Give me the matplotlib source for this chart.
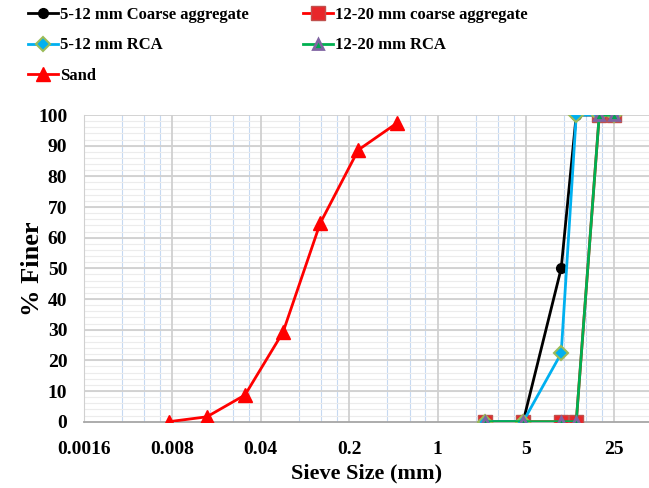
import numpy as np
import matplotlib
matplotlib.use('Agg')
import matplotlib.pyplot as plt
from matplotlib.ticker import FixedLocator, NullFormatter

plt.rcParams['font.family'] = ['Liberation Serif', 'DejaVu Serif']
plt.rcParams['font.weight'] = 'bold'

# Datos
coarse_x = [2.36, 4.75, 9.5, 12.5, 19, 25]
coarse_5_12 = [0, 0, 50, 100, 100, 100]
coarse_12_20 = [0, 0, 0, 0, 100, 100]
rca_5_12 = [0, 0, 22.3, 100, 100, 100]
rca_12_20 = [0, 0, 0, 0, 100, 100]

sand_x = [0.0075, 0.015, 0.03, 0.06, 0.118, 0.236, 0.475]
sand = [0, 1.6, 8.7, 29.2, 64.7, 88.6, 97.3]

x_ticks = [0.0016, 0.008, 0.04, 0.2, 1, 5, 25]
x_labels = ['0.0016', '0.008', '0.04', '0.2', '1', '5', '25']

fig = plt.figure(figsize=(6.49, 4.88), dpi=100)
ax = fig.add_axes([84/649, 66.3/488, 1 - 84/649, 306.7/488])

# Cuadricula
minor_x = [b * k for b in [0.0016, 0.008, 0.04, 0.2, 1, 5, 25] for k in [2, 3, 4]]
for v in minor_x:
    ax.axvline(v, color='#c6d9f1', lw=0.8, zorder=0)
for v in np.arange(2, 100, 2):
    ax.axhline(v, color='#ececec', lw=0.8, zorder=0)
for v in x_ticks:
    ax.axvline(v, color='#d0d0d0', lw=1.3, zorder=0.5)
for v in np.arange(10, 101, 10):
    ax.axhline(v, color='#d0d0d0', lw=1.3, zorder=0.5)

l1, = ax.plot(coarse_x, coarse_5_12, color='black', lw=2, marker='o', ms=7,
              label='5-12 mm Coarse aggregate', zorder=3)
l2, = ax.plot(coarse_x, coarse_12_20, color='#ff0000', lw=2, marker='s', ms=10,
              mfc='#e8262a', mec='#c0504d', label='12-20 mm coarse aggregate', zorder=3)
l3, = ax.plot(coarse_x, rca_5_12, color='#00b0f0', lw=2, marker='D', ms=7,
              mfc='#00b0f0', mec='#9bbb59', mew=1.5, label='5-12 mm RCA', zorder=3)
l4, = ax.plot(coarse_x, rca_12_20, color='#00b050', lw=2, marker='^', ms=7,
              mfc='#00a650', mec='#8064a2', mew=2, label='12-20 mm RCA', zorder=3)
l5, = ax.plot(sand_x, sand, color='#ff0000', lw=2, marker='^', ms=10,
              label='Sand', zorder=3)

ax.set_xscale('log')
ax.set_xlim(0.0016, 47)
ax.set_ylim(0, 100)
ax.xaxis.set_major_locator(FixedLocator(x_ticks))
ax.set_xticklabels(x_labels)
ax.xaxis.set_minor_locator(FixedLocator([]))
ax.xaxis.set_minor_formatter(NullFormatter())
ax.set_yticks(np.arange(0, 101, 10))
ax.tick_params(length=0, labelsize=14, pad=12)
ax.tick_params(axis='x', pad=14)

for s in ['top', 'right']:
    ax.spines[s].set_visible(False)
ax.spines['left'].set_color('#d0d0d0')
ax.spines['bottom'].set_color('#a6a6a6')
ax.spines['bottom'].set_linewidth(1.3)

ax.set_xlabel('Sieve Size (mm)', fontsize=16, fontweight='bold', labelpad=4)
ax.set_ylabel('% Finer', fontsize=19, fontweight='bold', labelpad=-4)

fig.legend(handles=[l1, l3, l5, l2, l4], ncol=2, loc='upper left',
           bbox_to_anchor=(0.02, 1.016), frameon=False, fontsize=12,
           handlelength=1.8, handletextpad=0.15, columnspacing=3.2,
           labelspacing=0.85)

fig.savefig('out.png', dpi=100)
